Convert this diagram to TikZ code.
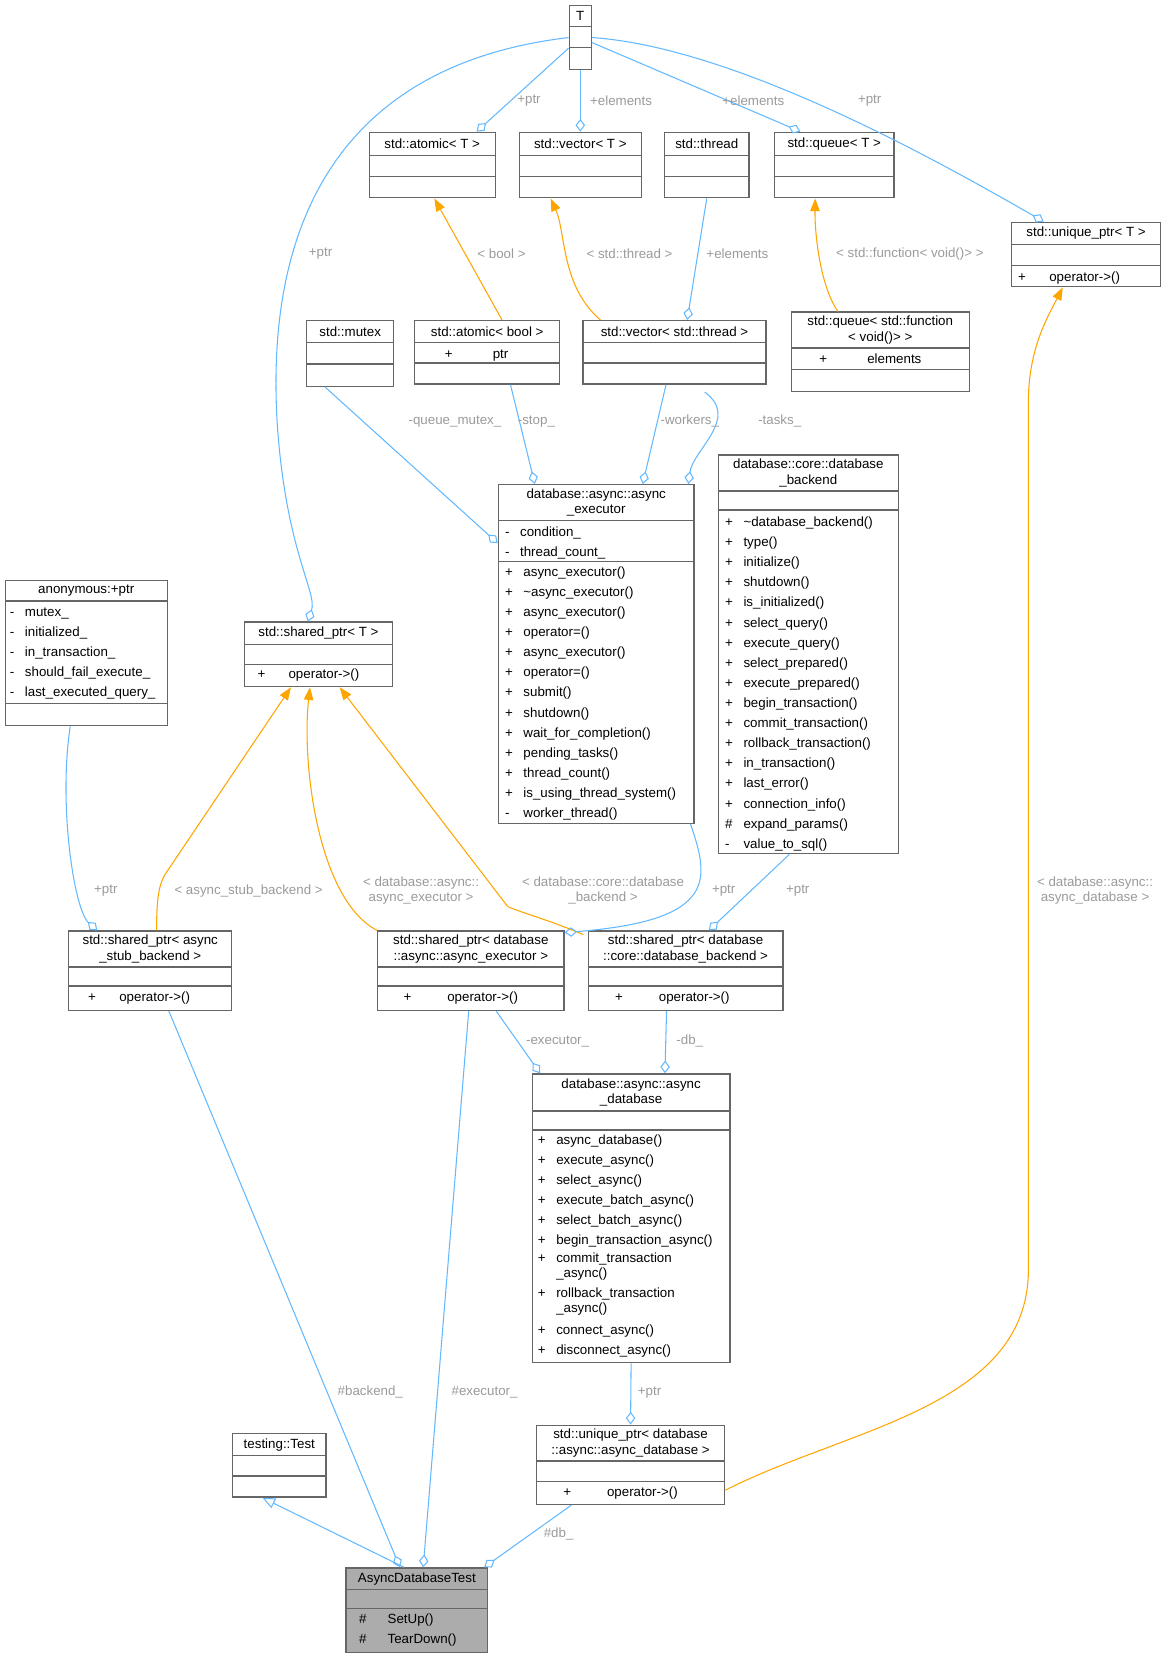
\documentclass[tikz,border=0pt]{standalone}
\usepackage{fontspec}
\setmainfont{Liberation Sans}
\usetikzlibrary{arrows.meta,fit}
\definecolor{eblue}{HTML}{63B8FF}
\definecolor{eora}{HTML}{FFA500}
\definecolor{lgray}{HTML}{9A9A9A}
\definecolor{bgray}{HTML}{666666}
\tikzset{
 box/.style={draw=bgray,inner sep=0pt,line width=0.6pt},
 boxline/.style={draw=bgray,line width=0.6pt},
 txt/.style={font=\fontsize{6.3}{7.2}\selectfont,inner sep=0pt},
 lines/.style={font=\fontsize{6.3}{9.5}\selectfont,inner sep=0pt,anchor=north west},
 lbl/.style={font=\fontsize{6.3}{7.2}\selectfont,text=lgray,align=center,inner sep=1pt},
 agg/.style={draw=eblue,line width=0.5pt,-{Diamond[open,length=6pt,width=4.5pt]}},
 ora/.style={draw=eora,line width=0.5pt,-{Triangle[length=6pt,width=4.5pt]}},
 inh/.style={draw=eblue,line width=0.5pt,-{Triangle[open,length=6pt,width=5pt]}},
}
\newcommand\ubox[8]{%
 \node[box,fit={(#2,#3)(#4,#5)}] (#1) {};
 \draw[boxline] (#2,#6)--(#4,#6) (#2,#7)--(#4,#7);
 \node[txt,align=center] at ({(#2+#4)/2},{(#3+#6)/2}) {#8};}
\newcommand\ulines[3]{\node[lines] at (#1,#2) {\begin{tabular}{@{}l@{\hspace{5pt}}l@{}}#3\end{tabular}};}
\begin{document}
\begin{tikzpicture}[x=0.5pt,y=-0.5pt]
\useasboundingbox (0,0) rectangle (1105,1569);
% boxes
\ubox{T}{538}{5}{559}{66}{25}{45}{T}
\ubox{atomicT}{349}{125}{468}{187}{147}{167}{std::atomic< T >}
\ubox{vecT}{491}{125}{606}{187}{147}{167}{std::vector< T >}
\ubox{thread}{628}{125}{708}{187}{147}{167}{std::thread}
\ubox{queueT}{732}{125}{845}{187}{147}{167}{std::queue< T >}
\ubox{uniqueT}{956}{210}{1097}{271}{231}{251}{std::unique\_ptr< T >}
\ulines{962}{252}{+ & \hspace{6pt}operator->()\\}
\ubox{mutex}{290}{303}{372}{365}{324}{344}{std::mutex}
\ubox{atomicbool}{392}{303}{529}{363}{324}{343}{std::atomic< bool >}
\ulines{420}{325}{+ & \hspace{14pt}ptr\\}
\ubox{vecthread}{551}{303}{724}{363}{324}{343}{std::vector< std::thread >}
\ubox{queuefunc}{748}{295}{916}{370}{329}{349}{std::queue< std::function\\< void()> >}
\ulines{774}{330}{+ & \hspace{14pt}elements\\}
\ubox{executor}{471}{458}{656}{778}{492}{531}{database::async::async\\\_executor}
\ulines{477}{493}{- & condition\_\\ - & thread\_count\_\\}
\ulines{477}{531}{+ & async\_executor()\\ + & \textasciitilde async\_executor()\\ + & async\_executor()\\ + & operator=()\\ + & async\_executor()\\ + & operator=()\\ + & submit()\\ + & shutdown()\\ + & wait\_for\_completion()\\ + & pending\_tasks()\\ + & thread\_count()\\ + & is\_using\_thread\_system()\\ - & worker\_thread()\\}
\ubox{backend}{679}{430}{849}{807}{464}{482}{database::core::database\\\_backend}
\ulines{685}{484}{+ & \textasciitilde database\_backend()\\ + & type()\\ + & initialize()\\ + & shutdown()\\ + & is\_initialized()\\ + & select\_query()\\ + & execute\_query()\\ + & select\_prepared()\\ + & execute\_prepared()\\ + & begin\_transaction()\\ + & commit\_transaction()\\ + & rollback\_transaction()\\ + & in\_transaction()\\ + & last\_error()\\ + & connection\_info()\\ \# & expand\_params()\\ - & value\_to\_sql()\\}
\ubox{anon}{5}{549}{158}{686}{568}{665}{anonymous:+ptr}
\ulines{9}{569}{- & mutex\_\\ - & initialized\_\\ - & in\_transaction\_\\ - & should\_fail\_execute\_\\ - & last\_executed\_query\_\\}
\ubox{sharedT}{231}{588}{371}{649}{609}{628}{std::shared\_ptr< T >}
\ulines{243}{628}{+ & \hspace{6pt}operator->()\\}
\ubox{spstub}{65}{880}{219}{955}{914}{932}{std::shared\_ptr< async\\\_stub\_backend >}
\ulines{83}{933}{+ & \hspace{6pt}operator->()\\}
\ubox{spexec}{357}{880}{533}{955}{914}{932}{std::shared\_ptr< database\\::async::async\_executor >}
\ulines{381}{933}{+ & \hspace{12pt}operator->()\\}
\ubox{spback}{556}{880}{740}{955}{914}{932}{std::shared\_ptr< database\\::core::database\_backend >}
\ulines{581}{933}{+ & \hspace{12pt}operator->()\\}
\ubox{asyncdb}{503}{1015}{690}{1288}{1050}{1068}{database::async::async\\\_database}
\ulines{508}{1068}{+ & async\_database()\\ + & execute\_async()\\ + & select\_async()\\ + & execute\_batch\_async()\\ + & select\_batch\_async()\\ + & begin\_transaction\_async()\\}
\node[lines,font=\fontsize{6.3}{7}\selectfont] at (508,1183) {\begin{tabular}{@{}l@{\hspace{5pt}}l@{}}+ & commit\_transaction\\ & \_async()\end{tabular}};
\node[lines,font=\fontsize{6.3}{7}\selectfont] at (508,1216) {\begin{tabular}{@{}l@{\hspace{5pt}}l@{}}+ & rollback\_transaction\\ & \_async()\end{tabular}};
\ulines{508}{1248}{+ & connect\_async()\\ + & disconnect\_async()\\}
\ubox{testing}{220}{1355}{308}{1415}{1376}{1395}{testing::Test}
\ubox{uniquedb}{507}{1347}{685}{1422}{1381}{1400}{std::unique\_ptr< database\\::async::async\_database >}
\ulines{532}{1401}{+ & \hspace{12pt}operator->()\\}
\fill[lightgray!70!gray] (327,1482) rectangle (461,1562);
\ubox{adt}{327}{1482}{461}{1562}{1502}{1520}{AsyncDatabaseTest}
\ulines{339}{1521}{\# & \hspace{5pt}SetUp()\\ \# & \hspace{5pt}TearDown()\\}
% edges from T
\draw[agg] (T) -- ([xshift=21pt]atomicT.north);
\draw[agg] (T.south) -- (vecT.north);
\draw[agg] (T) -- ([xshift=-16pt]queueT.north);
\draw[agg] (T.east) .. controls (700,45) and (900,160) .. ([xshift=-20pt]uniqueT.north);
\draw[agg] (T.west) .. controls (330,60) and (250,200) .. (262,400) .. controls (270,520) and (300,560) .. ([xshift=-5pt]sharedT.north);
\node[lbl] at (500,95) {+ptr};
\node[lbl] at (587,95) {+elements};
\node[lbl] at (712,95) {+elements};
\node[lbl] at (822,95) {+ptr};
\node[lbl] at (303,240) {+ptr};
% second row
\draw[agg] (thread.south) -- ([xshift=6pt]vecthread.north);
\node[lbl] at (697,240) {+elements};
\draw[ora] ([xshift=-35pt]vecthread.north) .. controls (530,270) and (535,220) .. ([xshift=-14pt]vecT.north |- vecT.south);
\node[lbl] at (595,240) {< std::thread >};
\draw[ora] ([xshift=7pt]atomicbool.north) -- ([xshift=1pt]atomicT.south);
\node[lbl] at (474,240) {< bool >};
\draw[ora] ([xshift=-20pt]queuefunc.north) .. controls (775,270) and (770,220) .. ([xshift=-9pt]queueT.south);
\node[lbl] at (860,240) {< std::function< void()> >};
% to executor
\draw[agg] ([xshift=-12pt]mutex.south) -- ([yshift=-28pt]executor.north west);
\node[lbl] at (430,398) {-queue\_mutex\_};
\draw[agg] ([xshift=11pt]atomicbool.south) -- ([xshift=-29pt]executor.north);
\node[lbl] at (507,398) {-stop\_};
\draw[agg] ([xshift=-4pt]vecthread.south) -- ([xshift=22pt]executor.north);
\node[lbl] at (652,398) {-workers\_};
\draw[agg] ([xshift=-83pt]queuefunc.south) .. controls (700,395) and (655,425) .. ([xshift=-3pt]executor.north east);
\node[lbl] at (737,398) {-tasks\_};
% shared ptrs
\draw[agg] (anon.south west) ++(62,0) .. controls (55,760) and (70,860) .. ([xshift=-25pt]spstub.north);
\node[lbl] at (100,842) {+ptr};
\draw[ora] ([xshift=3pt]spstub.north) .. controls (148,850) and (150,835) .. (157,825) -- ([xshift=-13pt]sharedT.south);
\node[lbl] at (235,842) {< async\_stub\_backend >};
\draw[ora] (spexec.north west) .. controls (300,850) and (285,720) .. ([xshift=-4pt]sharedT.south);
\node[lbl] at (398,842) {< database::async::\\async\_executor >};
\draw[ora] ([xshift=-2pt,yshift=-2pt]spback.north west) .. controls (520,870) and (500,865) .. (480,857) -- ([xshift=10pt]sharedT.south);
\node[lbl] at (570,842) {< database::core::database\\\_backend >};
\draw[agg] ([xshift=-2pt]executor.south east) .. controls (670,830) and (680,870) .. ([yshift=-1pt]spexec.north east);
\node[lbl] at (684,842) {+ptr};
\draw[agg] ([xshift=-9pt]backend.south) -- ([xshift=11pt]spback.north);
\node[lbl] at (754,842) {+ptr};
% async db
\draw[agg] ([xshift=12pt]spexec.south) -- ([xshift=4pt]asyncdb.north west);
\node[lbl] at (527,984) {-executor\_};
\draw[agg] ([xshift=-9pt]spback.south) -- ([xshift=16pt]asyncdb.north);
\node[lbl] at (652,984) {-db\_};
\draw[agg] (asyncdb.south) -- (uniquedb.north);
\node[lbl] at (614,1316) {+ptr};
\draw[ora] ([yshift=-12pt]uniquedb.east) .. controls (800,1350) and (972,1330) .. (972,1200) -- (972,380) .. controls (972,330) and (990,300) .. ([xshift=-11pt]uniqueT.south);
\node[lbl] at (1035,842) {< database::async::\\async\_database >};
% to test
\draw[inh] ([xshift=-6pt]adt.north) -- ([xshift=-8pt]testing.south);
\draw[agg] ([xshift=-30pt]spstub.south east) -- ([xshift=-8pt]adt.north);
\node[lbl] at (350,1316) {\#backend\_};
\draw[agg] ([xshift=-1pt]spexec.south) -- ([xshift=3pt]adt.north);
\node[lbl] at (458,1316) {\#executor\_};
\draw[agg] ([xshift=-28pt]uniquedb.south) -- ([xshift=-2pt]adt.north east);
\node[lbl] at (528,1450) {\#db\_};
\end{tikzpicture}
\end{document}
